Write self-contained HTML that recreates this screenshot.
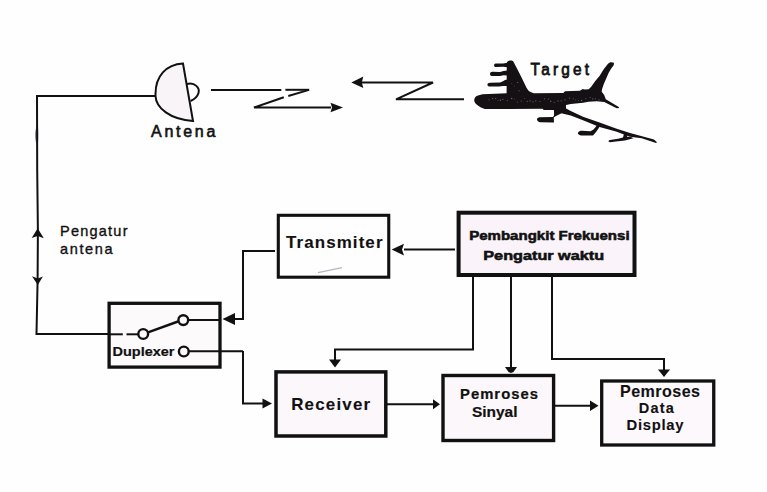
<!DOCTYPE html>
<html>
<head>
<meta charset="utf-8">
<style>
html,body{margin:0;padding:0;background:#fff;}
body{width:767px;height:492px;overflow:hidden;}
svg{display:block;}
text{font-family:"Liberation Sans",sans-serif;fill:#111;}
.b{font-weight:bold;}
</style>
</head>
<body>
<svg width="767" height="492" viewBox="0 0 767 492">
<rect x="0" y="0" width="767" height="492" fill="#fefefe"/>

<!-- left antenna feed line -->
<path d="M36.5,127 C34.6,131 34.6,138 36,142.5 L38,142.5 C38.5,137 38.5,131 38,127 Z" fill="#3a2a44" opacity="0.55"/>

<g fill="none" stroke="#111" stroke-width="2" stroke-linejoin="miter">
  <polyline points="156,96 37,96 37.2,170 37.9,230 37.6,280 36.5,334 109,334"/>
</g>
<!-- arrows on left line -->
<path d="M37.7,228.3 L43.8,238.3 L37.7,236 L31.7,238 Z" fill="#111"/>
<path d="M37.8,285 L42.9,276.4 L37.8,278.5 L32,276.2 Z" fill="#111"/>

<!-- antenna dish -->
<path d="M183,63.5 C166,64.5 155.5,76 155.5,94 L155.5,96 C156,108 170,119.5 193,121 Z" fill="#f8f4f8" stroke="#111" stroke-width="2"/>
<path d="M187,84 C195,82 200,88 198.5,93 C197,98 193,100 190.5,101" fill="none" stroke="#111" stroke-width="2"/>

<!-- zigzag 1 -->
<g fill="none" stroke="#111" stroke-width="2">
  <line x1="211" y1="90" x2="281.3" y2="90"/>
  <line x1="285.4" y1="89.8" x2="309.2" y2="89.8"/>
  <line x1="309" y1="89.9" x2="288.3" y2="96"/>
  <polyline points="283.8,97.2 254,107.5 331,107.5"/>
</g>
<path d="M343,107.5 L330.5,102.8 L332,107.5 L330.5,112.3 Z" fill="#111"/>
<!-- zigzag 2 -->
<g fill="none" stroke="#111" stroke-width="2">
  <polyline points="361,82.5 433,82.5 396,99.3 464,99.3"/>
</g>
<path d="M351.3,82.4 L363.3,76.4 L361.8,82.4 L363.3,88 Z" fill="#111"/>

<!-- plane -->
<g fill="#141014">
  <path d="M474.2,100 C474.5,97.5 476,96 478,95.5 L482.5,94.2 L495,93.8 L506.6,93.3 L506.8,63 C507,61.5 508.5,60.6 510,60.5 C511.5,60.4 512.8,60.6 513.3,61.5 L517,68.5 L521.2,76.8 L525.3,85.2 C526.5,88 528,90.5 530,91.8 L533.7,93.2 L563.3,92.9 L565,91.3 L580,90.8 L582.8,88.9 L584.5,89.6 L588.7,89.3 L591.2,86.8 L595.3,81 L599.5,76 L603.7,69.3 L607.8,63.9 C609,62.7 610,62.2 611.2,62.2 L614,62.7 L613.7,65.2 L611.2,68.5 L608.7,72.7 L606.2,78.5 L603.7,84.3 L602,89.3 L601.7,91.7 L604.2,95 L605.8,99.2 L608.3,100.8 L618.75,107.1 L619.2,107.9 L616.7,108.3 L606.7,103.3 L604.2,102.1 L596.7,101.3 L588.3,101.7 L583.25,102.7 L570.75,103.9 L565.1,105.2 L564.2,108 L553.75,110 L543.75,110 L542.5,108.8 L503.3,109 L485,108.9 C482,108.6 479,106.5 476,104 C474.8,102.5 474.2,101.3 474.2,100 Z"/>
  <path d="M559,109 L564.2,107.6 L570.75,111.1 L583,116.8 L599.5,122.5 L616,128.6 L630,133 L654,139.6 L657,142.3 L656,143 L641.7,138.3 L630,136.7 L616,131.5 L599.5,127 L583,120.3 L570.75,115.5 L560.1,113 Z"/>
  <path d="M553.7,106 L566,105 L566,110 L561,113.5 L557,115.5 L554,117 L554.3,112 Z"/>
  <path d="M553.75,109 L554.4,114.4 L553.1,116.9 L539.4,117.2 C537.5,117.5 536.8,118.8 537,119.8 C537.5,121.3 538.8,122.2 540,122.2 L554,122.5 L553.75,117.5 L556.25,115 L559.6,113.1 L560,109.5 Z"/>
  <path d="M598,123.3 L600.8,124.6 L598.5,128.5 L596,132 L593.5,135 L592.7,135.5 L581,135.5 C578.5,135.1 577.5,133.6 578,132.5 C579,131.2 580.5,130.8 582,130.8 L590.5,131.2 L593.5,129.5 L596,126.5 Z"/>
  <path d="M608.5,141.5 C608.5,140.6 609,140.2 610,140 L618,138.8 L623,137.6 L624.2,133 L627.5,133.8 L627,136.8 L631,137 L633.5,138.2 L625,140.5 L616,141.5 L610,142.2 Z"/>
  <path d="M494,65.2 C494,63.9 495,63.4 496.5,63.4 L503,63.6 L507.5,62.8 L507.5,67.2 L503,66.8 L496.5,67 C495,67 494,66.5 494,65.2 Z"/>
  <path d="M490,73.9 C490,72.5 491,71.8 492.5,71.8 L500,71.9 L503.5,71 L507.5,70.5 L507.5,75.5 L503.5,75.2 L500,76 L492.5,76.1 C491,76.1 490,75.3 490,73.9 Z"/>
  <path d="M487.4,84.75 C487.4,83.4 488.4,82.7 490,82.7 L500,82.6 L503,81.2 L505,80 L507.5,79.5 L507.5,86 L503,86 L499,86.4 L490,86.5 C488.4,86.5 487.4,85.9 487.4,84.75 Z"/>
</g>
<g fill="#8a8696" opacity="0.75"><circle cx="489.0" cy="99.7" r="0.50"/><circle cx="492.7" cy="98.6" r="0.61"/><circle cx="495.7" cy="98.6" r="0.60"/><circle cx="498.0" cy="100.2" r="0.47"/><circle cx="500.4" cy="100.2" r="0.70"/><circle cx="502.9" cy="99.3" r="0.64"/><circle cx="507.3" cy="100.8" r="0.57"/><circle cx="511.7" cy="98.5" r="0.71"/><circle cx="514.6" cy="98.9" r="0.49"/><circle cx="517.5" cy="101.9" r="0.50"/><circle cx="521.1" cy="101.1" r="0.56"/><circle cx="524.5" cy="98.6" r="0.47"/><circle cx="527.2" cy="101.3" r="0.58"/><circle cx="530.1" cy="100.9" r="0.59"/><circle cx="533.0" cy="101.8" r="0.66"/><circle cx="535.8" cy="100.8" r="0.61"/><circle cx="540.0" cy="101.5" r="0.54"/><circle cx="544.4" cy="98.8" r="0.58"/><circle cx="548.4" cy="99.0" r="0.60"/><circle cx="550.7" cy="101.2" r="0.68"/><circle cx="554.2" cy="102.2" r="0.54"/><circle cx="558.0" cy="100.9" r="0.62"/><circle cx="561.2" cy="100.8" r="0.59"/><circle cx="565.0" cy="99.8" r="0.64"/><circle cx="569.4" cy="98.1" r="0.57"/><circle cx="573.2" cy="98.8" r="0.50"/><circle cx="575.6" cy="100.1" r="0.49"/><circle cx="578.4" cy="100.5" r="0.47"/><circle cx="581.6" cy="100.5" r="0.70"/><circle cx="585.8" cy="98.7" r="0.56"/><circle cx="590.1" cy="97.6" r="0.50"/><circle cx="592.8" cy="98.9" r="0.63"/><circle cx="595.6" cy="98.7" r="0.56"/><circle cx="599.1" cy="99.8" r="0.60"/><circle cx="517.8" cy="82.5" r="0.58"/><circle cx="519.1" cy="90.7" r="0.56"/><circle cx="514.1" cy="86.0" r="0.42"/><circle cx="517.2" cy="82.6" r="0.41"/><circle cx="511.7" cy="83.6" r="0.47"/></g>
<!-- Transmiter box -->
<rect x="278.3" y="215.3" width="110.45" height="61.90" fill="#fefefe" stroke="#111" stroke-width="3.1"/>
<!-- Pembangkit box -->
<rect x="458.6" y="212.7" width="175.90" height="62.30" fill="#faf3f9" stroke="#111" stroke-width="4"/>
<!-- Duplexer -->
<rect x="109.1" y="303.3" width="110.90" height="63.80" fill="#fdfafc" stroke="#111" stroke-width="3.3"/>
<!-- Receiver -->
<rect x="276" y="371.9" width="109.80" height="64.10" fill="#fcf7fb" stroke="#111" stroke-width="3.5"/>
<!-- Pemroses Sinyal -->
<rect x="443" y="375.5" width="110.60" height="65.00" fill="#fcf7fb" stroke="#111" stroke-width="3.4"/>
<!-- Pemroses Data Display -->
<rect x="601.7" y="381" width="112.05" height="64.00" fill="#fcf8fb" stroke="#111" stroke-width="3.3"/>

<!-- Duplexer switch -->
<g fill="none" stroke="#111" stroke-width="2">
  <line x1="110" y1="334.3" x2="122.8" y2="334.3"/>
  <line x1="126.5" y1="334.3" x2="138" y2="334.3"/>
  <line x1="148" y1="332.4" x2="178" y2="321.5" stroke-width="2.4"/>
  <line x1="188.2" y1="320" x2="220" y2="320"/>
  <line x1="188.5" y1="351.3" x2="243" y2="351.3"/>
  <circle cx="143.2" cy="334" r="4.9" fill="#fdfafc" stroke-width="2.4"/>
  <circle cx="183.3" cy="320.1" r="4.9" fill="#fdfafc" stroke-width="2.4"/>
  <circle cx="183.8" cy="351.5" r="4.9" fill="#fdfafc" stroke-width="2.4"/>
</g>

<!-- connecting lines -->
<g fill="none" stroke="#111" stroke-width="2">
  <!-- transmiter to duplexer -->
  <polyline points="275,251 243,251 243,319 234,319"/>
  <!-- duplexer to receiver -->
  <polyline points="243,351 243,403.5 264,403.5"/>
  <!-- pembangkit to transmiter -->
  <line x1="404" y1="249.5" x2="455" y2="249.5"/>
  <!-- pembangkit to receiver -->
  <polyline points="473,275 473,349.5 335,349.5 335,360"/>
  <!-- pembangkit to sinyal -->
  <line x1="511" y1="275" x2="511" y2="368"/>
  <!-- pembangkit to data -->
  <polyline points="552,275 552,359 664,359 664,370"/>
  <!-- receiver to sinyal -->
  <line x1="387" y1="404.3" x2="434" y2="404.3"/>
  <!-- sinyal to data -->
  <line x1="555" y1="405.7" x2="591" y2="405.7"/>
</g>
<g fill="#111">
  <path d="M222.5,319 L235,313 L235,325 Z"/>
  <path d="M391.6,249.4 L404,243.8 L402,249.4 L404,255.4 Z"/>
  <path d="M272,403.5 L262.5,398.5 L262.5,408.5 Z"/>
  <path d="M335,367.5 L329,359.5 L341,359.5 Z"/>
  <path d="M505,367 L517,367 L513.5,372 L511,373 L508.5,372 Z"/>
  <path d="M664,377 L658,369.5 L670,369.5 Z"/>
  <path d="M440,404.3 L433,399.3 L433,409.3 Z"/>
  <path d="M598.5,405.7 L590,400.5 L590,410.9 Z"/>
</g>

<!-- scan artifacts -->
<line x1="318" y1="272.6" x2="342" y2="267.6" stroke="#9a96a4" stroke-width="1.1" opacity="0.7"/>
<!-- Texts -->
<g stroke="#111">
<text x="151" y="137" font-size="16" stroke-width="0.6" textLength="64.4" lengthAdjust="spacing">Antena</text>
<g transform="translate(530.5,74.8) scale(0.96,1)"><text x="0" y="0" font-size="16" stroke-width="0.75" textLength="60.94" lengthAdjust="spacing">Target</text></g>
<text x="60" y="236.3" font-size="14.5" stroke-width="0.35" textLength="67.5" lengthAdjust="spacing">Pengatur</text>
<text x="60" y="253.7" font-size="14.5" stroke-width="0.35" textLength="52.5" lengthAdjust="spacing">antena</text>
<g transform="translate(286,248.4) scale(1.06,1)"><text x="0" y="0" font-size="16" class="b" stroke-width="0.1" textLength="91.04" lengthAdjust="spacing">Transmiter</text></g>
<text x="469.2" y="239.6" font-size="13" class="b" stroke-width="0.55" textLength="160.4" lengthAdjust="spacingAndGlyphs">Pembangkit Frekuensi</text>
<text x="483.3" y="260.2" font-size="13" class="b" stroke-width="0.55" textLength="120.8" lengthAdjust="spacingAndGlyphs">Pengatur waktu</text>
<text x="112.5" y="356.3" font-size="12.5" class="b" stroke-width="0.2" textLength="62" lengthAdjust="spacingAndGlyphs">Duplexer</text>
<g transform="translate(291.2,410.2) scale(1.06,1)"><text x="0" y="0" font-size="16" class="b" stroke-width="0.1" textLength="74.53" lengthAdjust="spacing">Receiver</text></g>
<g transform="translate(460,399) scale(1.06,1)"><text x="0" y="0" font-size="14" class="b" stroke-width="0.2" textLength="73.58" lengthAdjust="spacing">Pemroses</text></g>
<text x="472" y="417.1" font-size="14" class="b" stroke-width="0.2" textLength="45.5" lengthAdjust="spacingAndGlyphs">Sinyal</text>
<g transform="translate(620,397.4) scale(1.02,1)"><text x="0" y="0" font-size="15.8" class="b" stroke-width="0.1" textLength="78.43" lengthAdjust="spacing">Pemroses</text></g>
<g transform="translate(638.7,412.8) scale(0.97,1)"><text x="0" y="0" font-size="15" class="b" stroke-width="0.1" textLength="36.29" lengthAdjust="spacing">Data</text></g>
<text x="626.5" y="429.6" font-size="14.8" class="b" stroke-width="0.1" textLength="57" lengthAdjust="spacing">Display</text>
</g>
</svg>
</body>
</html>
